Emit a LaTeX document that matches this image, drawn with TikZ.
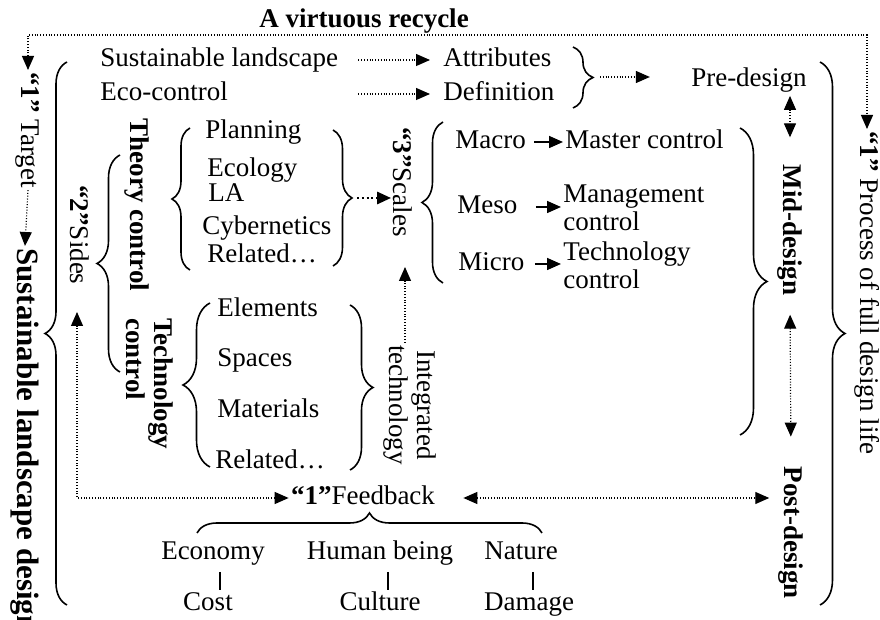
\documentclass[tikz,border=0pt]{standalone}
\usepackage{fontspec}
\setmainfont{Liberation Serif}
\usetikzlibrary{positioning,arrows.meta,decorations.pathreplacing}

\begin{document}
\begin{tikzpicture}[
x=0.5pt,
y=-0.5pt,
font=\fontsize{13.5}{14}\selectfont,
lbl/.style={
inner sep=1pt,
text height=9pt,
text depth=2.5pt
},
multi/.style={
inner sep=1pt,
align=left
},
vlbl/.style={
inner sep=1pt,
rotate=-90
},
bld/.style={
font=\fontsize{13.5}{14}\selectfont\bfseries
},
brace/.style={
decorate,
decoration={brace,amplitude=#1},
line width=0.8pt
},
dotarrow/.style={
-{Triangle[length=7pt,width=6pt]},
line width=0.6pt,
dash pattern=on 0.5pt off 0.9pt
},
dotboth/.style={
{Triangle[length=7pt,width=6pt]}-{Triangle[length=7pt,width=6pt]},
line width=0.6pt,
dash pattern=on 0.5pt off 0.9pt
},
arrow/.style={
-{Triangle[length=7pt,width=6pt]},
line width=0.8pt
},
tick/.style={
line width=0.6pt
}
]

\useasboundingbox (0,0) rectangle (880,620);


% Recycle loop

\node (title) [lbl, bld] at (364,21) {A virtuous recycle};
\coordinate (loop) at (0,35);

\node (target) [vlbl, anchor=west] at (28,70)
{\textbf{“1”} Target};

\node (sld) [vlbl, anchor=west, font=\fontsize{15.5}{16}\selectfont\bfseries] at (25,246)
{Sustainable landscape design};

\node (process) [vlbl, anchor=west] at (867,129)
{\textbf{“1”} Process of full design life};

\draw[dotboth] (target.west) -- (target.west |- loop) -- (process.west |- loop) -- (process.west);
\draw[dotarrow] (target.east) -- (sld.west);

\draw[brace=11pt] (67,605) -- (67,62);
\draw[brace=12.5pt] (820,62) -- (820,605);


% Pre-design

\node (sl) [lbl, anchor=west] at (98,60) {Sustainable landscape};
\node (eco) [lbl, anchor=west] at (98,94) {Eco-control};
\node (attr) [lbl, anchor=west] at (441,60) {Attributes};
\node (defn) [lbl, anchor=west] at (441,94) {Definition};
\node (pre) [lbl] at (749,80) {Pre-design};

\draw[dotarrow, shorten <=9pt, shorten >=5.5pt] (sl.east) -- (attr.west);
\draw[dotarrow, shorten <=9pt, shorten >=5.5pt] (eco.east -| sl.east) -- (defn.west);

\draw[brace=10pt] (573,47) -- (573,108);
\coordinate (adtip) at (593,77);
\draw[dotarrow, shorten <=3.5pt, shorten >=19.5pt] (adtip) -- (adtip -| pre.west);


% Mid-design and post-design

\node (mid) [vlbl, bld] at (790,230) {Mid-design};
\node (post) [vlbl, bld] at (791,533) {Post-design};

\draw[dotboth, shorten <=1pt, shorten >=12.5pt] (pre.south -| mid.center) -- (mid.west);
\draw[dotboth, shorten <=8.5pt, shorten >=14pt] (mid.east) -- (post.west);

\draw[brace=13.5pt] (740,128) -- (740,435);


% "2" Sides

\node (sides) [vlbl] at (80,235) {\textbf{“2”}Sides};
\draw[brace=11.5pt] (120,372) -- (120,155);

\node (theory) [vlbl, bld] at (137,205) {Theory control};
\node (techctl) [vlbl, bld, align=left, anchor=west] at (150,316)
{Technology\\control};


% Theory control

\draw[brace=9pt] (190,270) -- (190,128);

\node (plan) [lbl, anchor=west] at (203,132) {Planning};
\node (ecol) [lbl, anchor=west] at (205,170) {Ecology};
\node (la) [lbl, anchor=west] at (206,195) {LA};
\node (cyb) [lbl, anchor=west] at (200,228) {Cybernetics};
\node (rel1) [lbl, anchor=west] at (205,256) {Related…};

\draw[brace=9.5pt] (333,130) -- (333,266);
\coordinate (thtip) at (352,198);


% Technology control

\draw[brace=13.5pt] (210,467) -- (210,303);

\node (elem) [lbl, anchor=west] at (215,310) {Elements};
\node (space) [lbl, anchor=west] at (215,360) {Spaces};
\node (mater) [lbl, anchor=west] at (215,411) {Materials};
\node (rel2) [lbl, anchor=west] at (213,462) {Related…};

\draw[brace=11.5pt] (350,305) -- (350,470);


% "3" Scales

\node (scales) [vlbl] at (403,182) {\textbf{“3”}Scales};
\coordinate (sctip) at (405,267);

\draw[dotarrow, line width=1.4pt, dash pattern=on 1pt off 1.4pt, shorten <=2.5pt]
(thtip) -- (thtip -| scales.south);

\node (integ) [vlbl, align=center] at (410,405) {Integrated\\technology};
\draw[dotarrow] ([xshift=-2.5pt]integ.west) -- (sctip);

\draw[brace=10.5pt] (443,283) -- (443,122);

\node (macro) [lbl, anchor=west] at (453,142) {Macro};
\node (master) [lbl, anchor=west] at (563,142) {Master control};
\node (meso) [lbl, anchor=west] at (455,207) {Meso};
\node (mgmt) [multi, anchor=west] at (561,208) {Management\\control};
\node (micro) [lbl, anchor=west] at (456,264) {Micro};
\node (techc) [multi, anchor=west] at (561,265) {Technology\\control};

\draw[arrow, shorten <=3pt] (macro) -- (master);
\draw[arrow, shorten <=8pt] (meso.east) -- (meso.east -| mgmt.west);
\draw[arrow, shorten <=4pt] (micro.east) -- (micro.east -| techc.west);


% Feedback

\node (feedback) [lbl] at (363,498) {\textbf{“1”}Feedback};
\coordinate (sdtip) at (77,312);

\draw[dotboth] (feedback.west) -| (sdtip);
\draw[dotboth, shorten <=13pt, shorten >=3.5pt] (feedback.east) -- (feedback.east -| post.south);

\draw[brace=10pt] (197,533) -- (542,533);

\node (econ) [lbl] at (213,553) {Economy};
\node (human) [lbl] at (380,553) {Human being};
\node (nature) [lbl] at (521,553) {Nature};

\node (cost) [lbl, below=11.5pt of econ, xshift=-2.5pt] {Cost};
\node (culture) [lbl, below=11.5pt of human] {Culture};
\node (damage) [lbl, below=11.5pt of nature, xshift=4pt] {Damage};

\draw[tick, shorten <=2.5pt] ([xshift=3.5pt]econ.south) -- ([xshift=3.5pt]econ.south |- cost.north);
\draw[tick, shorten <=2.5pt] ([xshift=4pt]human.south) -- ([xshift=4pt]human.south |- culture.north);
\draw[tick, shorten <=2.5pt] ([xshift=6pt]nature.south) -- ([xshift=6pt]nature.south |- damage.north);


\end{tikzpicture}
\end{document}
